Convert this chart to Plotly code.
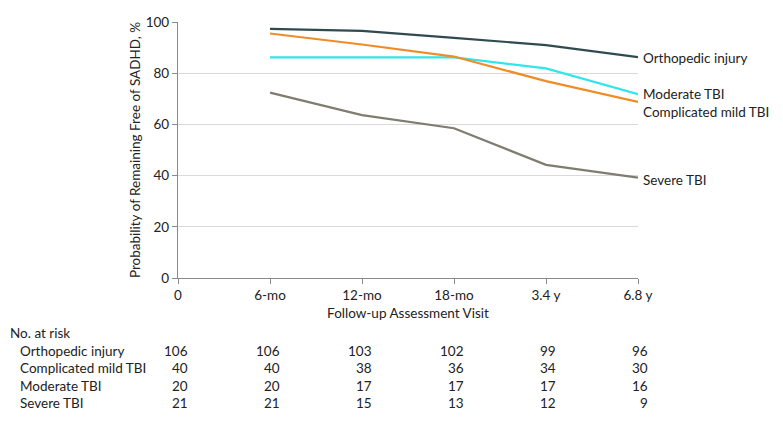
import plotly.graph_objects as go

visits = ["0", "6-mo", "12-mo", "18-mo", "3.4 y", "6.8 y"]
groups = ["Orthopedic injury", "Complicated mild TBI", "Moderate TBI", "Severe TBI"]
# probability values at 6-mo .. 6.8 y
ortho = [97.3, 96.5, 93.8, 91.0, 86.3]
comp_mild = [95.5, 91.2, 86.5, 76.9, 68.8]
moderate = [86.2, 86.2, 86.2, 81.9, 71.8]
severe = [72.4, 63.6, 58.5, 44.2, 39.2]
at_risk = {
    "Orthopedic injury": [106, 106, 103, 102, 99, 96],
    "Complicated mild TBI": [40, 40, 38, 36, 34, 30],
    "Moderate TBI": [20, 20, 17, 17, 17, 16],
    "Severe TBI": [21, 21, 15, 13, 12, 9],
}
colors = {
    "Orthopedic injury": "#2f4b4f",
    "Complicated mild TBI": "#f08c28",
    "Moderate TBI": "#33e5ea",
    "Severe TBI": "#7f7d70",
}
series = {
    "Orthopedic injury": ortho,
    "Complicated mild TBI": comp_mild,
    "Moderate TBI": moderate,
    "Severe TBI": severe,
}
label_y = {
    "Orthopedic injury": 85.9,
    "Moderate TBI": 71.9,
    "Complicated mild TBI": 64.8,
    "Severe TBI": 38.3,
}

FONT = "Lato"
FS = 13.5
xpos = list(range(len(visits)))

fig = go.Figure()
for g in ["Severe TBI", "Moderate TBI", "Complicated mild TBI", "Orthopedic injury"]:
    fig.add_trace(go.Scatter(
        x=xpos[1:], y=series[g], mode="lines",
        line=dict(color=colors[g], width=2.2),
        showlegend=False, cliponaxis=False, hoverinfo="skip",
    ))

anns = []
for g in groups:
    anns.append(dict(x=xpos[-1], y=label_y[g], xref="x", yref="y", text=g,
                     showarrow=False, xanchor="left", yanchor="middle", xshift=3,
                     font=dict(family=FONT, size=FS, color="#222")))

anns.append(dict(x=0, y=-0.214, xref="paper", yref="paper", text="No. at risk",
                 showarrow=False, xanchor="left", yanchor="middle", xshift=-170,
                 font=dict(family=FONT, size=FS, color="#222")))
row_y = [-0.284, -0.352, -0.422, -0.488]
for g, ry in zip(groups, row_y):
    anns.append(dict(x=0, y=ry, xref="paper", yref="paper", text=g, xshift=-160,
                     showarrow=False, xanchor="left", yanchor="middle",
                     font=dict(family=FONT, size=FS, color="#222")))
    for xi, v in zip(xpos, at_risk[g]):
        anns.append(dict(x=xi, y=ry, xref="x", yref="paper", text=str(v), xshift=12,
                         showarrow=False, xanchor="right", yanchor="middle",
                         font=dict(family=FONT, size=FS, color="#222")))

fig.update_layout(
    width=783, height=421,
    margin=dict(l=178, r=145, t=22, b=143),
    paper_bgcolor="white", plot_bgcolor="white",
    font=dict(family=FONT, size=FS, color="#222"),
    annotations=anns,
    xaxis=dict(
        range=[0, 5], tickvals=xpos, ticktext=visits,
        showgrid=False, zeroline=False, showline=True, linecolor="#8a8a8a", linewidth=1.2,
        ticks="outside", ticklen=5, tickcolor="#8a8a8a",
        title=dict(text="Follow-up Assessment Visit", standoff=6, font=dict(size=FS)),
        tickfont=dict(size=FS),
    ),
    yaxis=dict(
        range=[0, 100], tickvals=[0, 20, 40, 60, 80, 100],
        showgrid=True, gridcolor="#d9d9d9", gridwidth=1, zeroline=False,
        showline=True, linecolor="#8a8a8a", linewidth=1.2,
        ticks="outside", ticklen=5, tickcolor="#8a8a8a",
        title=dict(text="Probability of Remaining Free of SADHD, %", standoff=1, font=dict(size=FS)),
        tickfont=dict(size=FS),
    ),
)

fig.write_html("out.html", config={"displayModeBar": False},
               post_script="document.body.style.margin='0';")
